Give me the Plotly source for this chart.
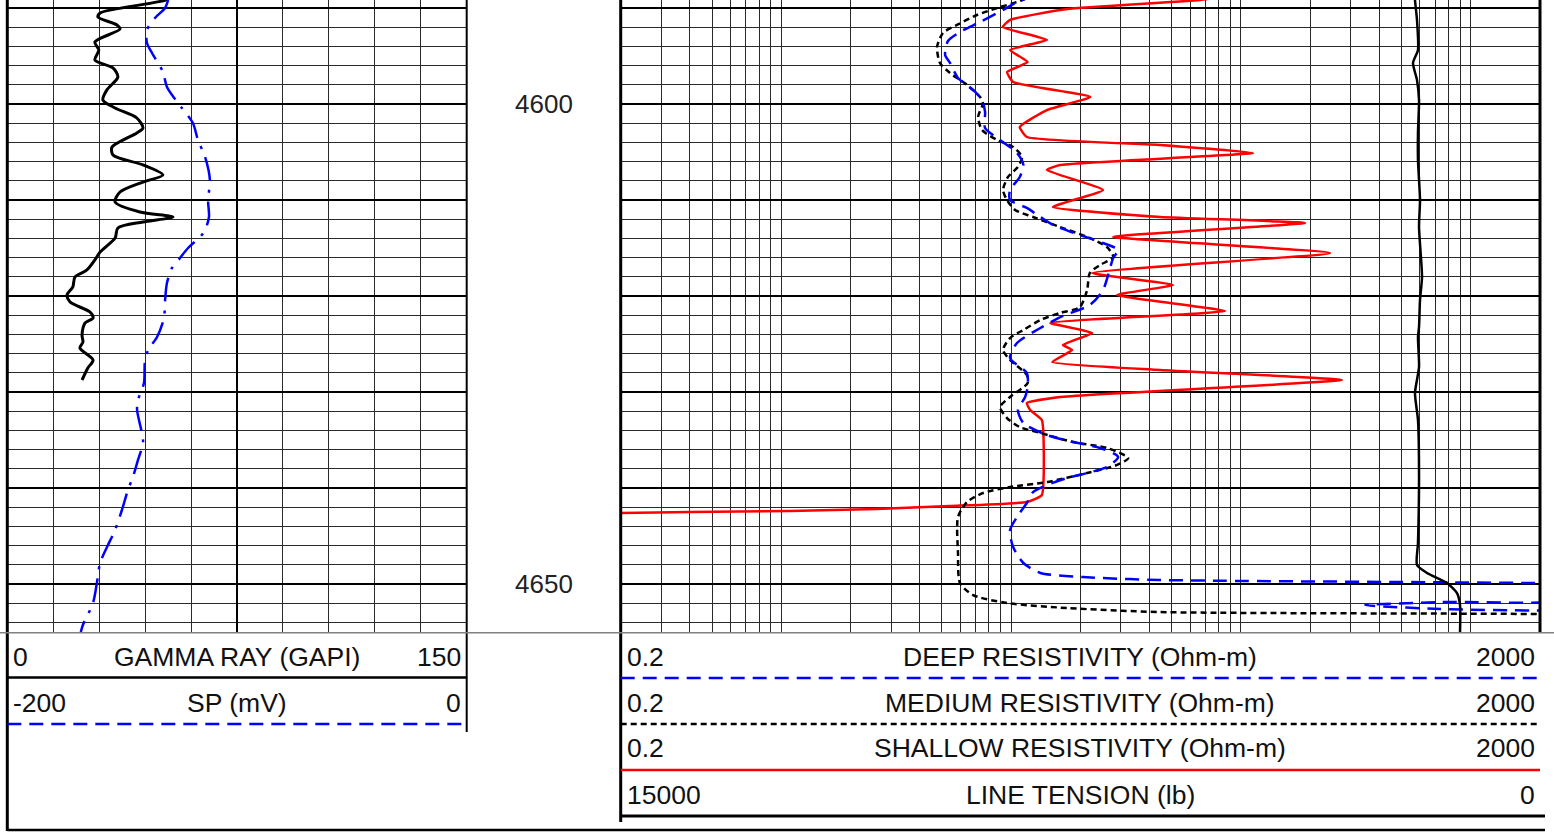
import plotly.graph_objects as go

# ---------------- data ----------------
gr_depth = [4588.85, 4589.17, 4590.52, 4590.94, 4591.77, 4592.19, 4593.54, 4594.38, 4595.42, 4596.25,
            4597.19, 4598.54, 4599.58, 4600.42, 4601.46, 4602.50, 4603.02, 4604.48, 4605.31, 4606.35,
            4607.40, 4608.13, 4609.17, 4610.21, 4611.25, 4611.77, 4612.29, 4612.92, 4613.96, 4615.42,
            4616.25, 4617.29, 4618.02, 4619.06, 4619.90, 4620.63, 4621.67, 4622.29, 4622.81, 4624.06,
            4624.79, 4625.42, 4626.67, 4627.50, 4628.75]
gr_value = [53.1, 51.8, 30.3, 29.6, 35.8, 36.8, 28.6, 29.9, 28.6, 34.5,
            36.1, 32.5, 31.2, 35.2, 42.3, 44.3, 42.3, 34.2, 34.5, 44.3,
            50.8, 44.3, 36.8, 35.2, 43.3, 54.1, 44.3, 36.1, 35.2, 30.3,
            28.6, 26.0, 22.1, 21.4, 19.5, 20.5, 27.0, 28.0, 25.4, 24.4,
            24.7, 23.7, 28.0, 26.3, 24.4]

sp_depth = [4589.17, 4590.00, 4591.04, 4592.29, 4593.65, 4594.69, 4596.67, 4598.23, 4600.42, 4601.98,
            4603.75, 4605.52, 4607.92, 4610.00, 4611.77, 4613.13, 4613.85, 4615.00, 4616.04, 4617.08,
            4618.65, 4620.42, 4622.29, 4624.27, 4625.63, 4626.88, 4629.06, 4630.83, 4631.88, 4634.27,
            4635.31, 4637.08, 4638.85, 4640.21, 4642.29, 4644.38, 4646.15, 4647.81, 4649.90, 4651.98,
            4654.27, 4655.00]
sp_value = [-130.0, -131.3, -135.7, -139.2, -139.2, -137.0, -132.2, -130.5, -124.0, -119.2,
            -117.0, -113.9, -111.8, -112.6, -112.2, -113.9, -116.1, -121.3, -124.8, -128.3,
            -130.5, -131.3, -131.8, -134.8, -138.7, -140.1, -140.5, -143.1, -143.5, -141.4,
            -140.9, -143.1, -145.3, -147.5, -150.1, -153.1, -156.6, -159.6, -161.0, -162.7,
            -167.1, -168.0]

deep_depth = [4588.65, 4589.38, 4590.21, 4591.46, 4592.50, 4593.44, 4594.90, 4595.73, 4597.29, 4598.54,
              4599.58, 4600.83, 4602.50, 4603.75, 4605.10, 4606.35, 4607.60, 4608.96, 4610.00, 4610.83,
              4611.77, 4612.60, 4613.65, 4614.48, 4615.21, 4616.04, 4619.38, 4620.94, 4622.08, 4623.33,
              4624.90, 4626.46, 4628.02, 4629.48, 4630.52, 4631.88, 4633.23, 4634.48, 4635.21, 4635.83,
              4636.77, 4637.81, 4638.44, 4638.96, 4639.69, 4640.42, 4641.56, 4642.60, 4644.38, 4646.15,
              4647.81, 4648.85, 4649.27, 4649.58, 4649.90, 4650.05, 4651.46, 4651.88, 4652.19, 4652.60,
              4652.81]
deep_value = [12.7, 10.6, 9.22, 7.32, 5.99, 5.31, 5.16, 5.42, 5.87, 6.83,
              7.47, 7.70, 7.70, 8.95, 10.6, 11.3, 10.9, 9.89, 9.89, 11.7,
              13.4, 15.2, 19.9, 25.1, 29.2, 27.8, 25.1, 22.0, 16.8, 13.4,
              10.6, 9.89, 11.7, 11.8, 11.5, 10.7, 11.3, 14.3, 18.6, 24.4,
              29.2, 26.1, 21.4, 17.5, 14.3, 12.45, 11.7, 10.9, 9.89, 10.2,
              11.3, 13.4, 20.5, 44.5, 1758, 3000, 3000, 735, 347, 735,
              3000]

med_depth = [4588.65, 4589.38, 4590.00, 4590.73, 4591.77, 4592.60, 4594.06, 4595.73, 4596.77, 4598.02,
             4599.27, 4599.90, 4601.35, 4602.71, 4603.75, 4604.48, 4605.52, 4606.56, 4607.60, 4608.96,
             4610.00, 4611.04, 4611.77, 4612.81, 4613.85, 4614.90, 4615.94, 4616.77, 4617.60, 4619.38,
             4621.15, 4621.77, 4622.50, 4623.54, 4624.38, 4625.63, 4626.67, 4628.23, 4629.06, 4630.52,
             4631.56, 4632.71, 4633.65, 4634.27, 4635.21, 4635.83, 4636.88, 4637.60, 4638.44, 4639.38,
             4639.90, 4640.52, 4641.46, 4643.02, 4646.77, 4649.90, 4651.15, 4651.98, 4652.50, 4652.92,
             4653.13, 4653.23]
med_value = [12.7, 10.6, 8.68, 7.10, 5.81, 5.05, 4.76, 4.90, 5.42, 6.43,
             7.32, 7.54, 7.18, 7.47, 8.68, 10.2, 11.15, 10.7, 9.69, 9.22,
             9.59, 10.4, 12.45, 16.3, 21.4, 26.1, 27.8, 24.4, 22.0, 21.4,
             19.9, 16.3, 13.4, 11.3, 9.89, 9.22, 9.89, 11.7, 11.8, 9.89,
             8.95, 9.59, 10.9, 13.4, 18.6, 26.1, 32.3, 28.9, 21.4, 14.3,
             9.89, 7.54, 6.43, 5.87, 5.87, 5.99, 6.83, 9.59, 17.5, 44.5,
             2000, 3000]

sh_depth = [4588.65, 4589.17, 4590.10, 4591.25, 4591.98, 4593.33, 4594.38, 4595.63, 4596.67, 4597.71,
            4599.27, 4600.63, 4602.40, 4603.44, 4604.27, 4605.10, 4606.35, 4606.88, 4608.96, 4610.73,
            4611.77, 4612.40, 4613.85, 4615.52, 4617.60, 4618.85, 4619.90, 4621.56, 4622.81, 4623.85,
            4625.10, 4625.63, 4626.88, 4627.71, 4628.75, 4630.52, 4631.15, 4631.88, 4632.92, 4640.73,
            4641.46, 4641.88, 4642.19, 4642.40, 4642.50, 4642.60, 4642.65]
sh_value = [89.6, 66.4, 17.5, 9.9, 9.2, 14.3, 9.9, 11.8, 9.6, 10.2,
            22.1, 14.3, 10.9, 11.7, 44.5, 112.9, 16.3, 14.3, 25.1, 15.2,
            44.5, 190, 27.8, 244, 22.5, 50.6, 28.9, 85.3, 14.8, 22.5,
            16.8, 18.4, 15.1, 44.5, 275, 16.3, 11.7, 12.1, 13.6, 13.6,
            11.7, 5.4, 2.6, 1.09, 0.40, 0.2, 0.18]

ten_depth = [4588.85, 4589.17, 4591.25, 4594.38, 4595.73, 4597.50, 4599.58, 4603.02, 4605.83, 4610.00,
             4612.81, 4618.02, 4620.42, 4623.23, 4624.27, 4627.40, 4630.10, 4632.92, 4638.85, 4645.73,
             4648.02, 4648.85, 4649.90, 4650.94, 4652.19, 4655.10]
ten_value = [2040, 2040, 2007, 1991, 2072, 2007, 1974, 1991, 1991, 1958,
             1974, 1925, 1958, 1974, 1991, 1974, 2040, 1991, 1974, 1991,
             2007, 1844, 1517, 1354, 1305, 1305]

depth_range = [4655.07, 4589.17]
depth_labels = [4600, 4650]
gr_range = [0, 150]
sp_range = [-200, 0]
res_range = [0.2, 2000]
ten_range = [15000, 0]

header_left = [("0", "GAMMA RAY (GAPI)", "150"), ("-200", "SP (mV)", "0")]
header_right = [("0.2", "DEEP RESISTIVITY (Ohm-m)", "2000"),
                ("0.2", "MEDIUM RESISTIVITY (Ohm-m)", "2000"),
                ("0.2", "SHALLOW RESISTIVITY (Ohm-m)", "2000"),
                ("15000", "LINE TENSION (lb)", "0")]

# ---------------- layout constants ----------------
W, H = 1554, 832
def px(x):
    return x / W
def py(y):
    return 1 - y / H

L0, L1 = px(7.3), px(466.7)
R0, R1 = px(620.7), px(1540)
YB = py(632.7)

BLUE = "#0000FF"
RED = "#FF0000"
DEEP_DASH = "14px,8px"
MED_DASH = "6px,4px"
SP_DASH = "24px,9px,3px,9px"
FONT = "Liberation Sans, Arial, sans-serif"

fig = go.Figure()

fig.add_trace(go.Scatter(x=gr_value, y=gr_depth, xaxis="x", yaxis="y", mode="lines",
                         line=dict(color="black", width=3, shape="spline", smoothing=0.8),
                         showlegend=False, hoverinfo="skip"))
fig.add_trace(go.Scatter(x=sp_value, y=sp_depth, xaxis="x2", yaxis="y", mode="lines",
                         line=dict(color=BLUE, width=2.5, dash=SP_DASH, shape="spline", smoothing=0.8),
                         showlegend=False, hoverinfo="skip"))
fig.add_trace(go.Scatter(x=sh_value, y=sh_depth, xaxis="x3", yaxis="y2", mode="lines",
                         line=dict(color=RED, width=2.5, shape="spline", smoothing=0.4),
                         showlegend=False, hoverinfo="skip"))
fig.add_trace(go.Scatter(x=med_value, y=med_depth, xaxis="x3", yaxis="y2", mode="lines",
                         line=dict(color="black", width=2.5, dash=MED_DASH, shape="spline", smoothing=0.7),
                         showlegend=False, hoverinfo="skip"))
fig.add_trace(go.Scatter(x=deep_value, y=deep_depth, xaxis="x3", yaxis="y2", mode="lines",
                         line=dict(color=BLUE, width=2.5, dash=DEEP_DASH, shape="spline", smoothing=0.7),
                         showlegend=False, hoverinfo="skip"))
fig.add_trace(go.Scatter(x=ten_value, y=ten_depth, xaxis="x4", yaxis="y2", mode="lines",
                         line=dict(color="black", width=2.5, shape="spline", smoothing=0.6),
                         showlegend=False, hoverinfo="skip"))

log_grid = []
for k in [-1, 0, 1, 2, 3]:
    for n in range(1, 10):
        v = n * 10 ** k
        if res_range[0] < v <= res_range[1]:
            log_grid.append(v)

GRIDC = "#2a2a2a"
yaxis_common = dict(range=depth_range, domain=[YB, 1], showticklabels=False, ticks="",
                    zeroline=False, showline=False,
                    tick0=4590, dtick=10, showgrid=True, gridcolor="black", gridwidth=2.5,
                    minor=dict(tick0=4590, dtick=2, showgrid=True, gridcolor=GRIDC, gridwidth=1))

fig.update_layout(
    width=W, height=H, margin=dict(l=0, r=0, t=0, b=0),
    paper_bgcolor="white", plot_bgcolor="white", showlegend=False,
    xaxis=dict(domain=[L0, L1], range=gr_range, anchor="y", showticklabels=False, ticks="",
               zeroline=False, showline=False, tick0=0, dtick=75, showgrid=True,
               gridcolor="black", gridwidth=2,
               minor=dict(dtick=15, showgrid=True, gridcolor=GRIDC, gridwidth=1)),
    xaxis2=dict(overlaying="x", range=sp_range, anchor="y", visible=False),
    xaxis3=dict(domain=[R0, R1], type="log", range=[-0.69897, 3.30103], anchor="y2",
                tickmode="array", tickvals=log_grid, showticklabels=False, ticks="",
                zeroline=False, showline=False, showgrid=True, gridcolor=GRIDC, gridwidth=1),
    xaxis4=dict(overlaying="x3", range=ten_range, anchor="y2", visible=False),
    yaxis=dict(anchor="x", **yaxis_common),
    yaxis2=dict(anchor="x3", matches="y", **yaxis_common),
)

shapes = []
def line(x0, y0, x1, y1, color="black", width=2, dash=None):
    d = dict(type="line", xref="paper", yref="paper", x0=x0, y0=y0, x1=x1, y1=y1,
             line=dict(color=color, width=width), layer="above")
    if dash:
        d["line"]["dash"] = dash
    shapes.append(d)

# track borders
line(L0, py(831), L0, 1, width=3)
line(L1, py(732), L1, 1, width=2)
line(R0, py(822), R0, 1, width=3)
line(R1, YB, R1, 1, width=3)
line(px(0), YB, px(1554), YB, color="#808080", width=1.5)
line(L0, py(830), px(1545), py(830), width=2.5)
# header separators
line(L0, py(677.5), L1, py(677.5), width=2.5)
line(L0, py(724), px(462), py(724), color=BLUE, width=2.5, dash=DEEP_DASH)
line(R0, py(678), R1, py(678), color=BLUE, width=2.5, dash=DEEP_DASH)
line(R0, py(724), R1, py(724), color="black", width=2.5, dash=MED_DASH)
line(R0, py(770), R1, py(770), color=RED, width=2.5)
line(R0, py(816), px(1545), py(816), color="black", width=3)
fig.update_layout(shapes=shapes)

ann = []
tf = dict(family=FONT, size=26.5, color="#111")
for i, (a, b, c) in enumerate(header_left):
    yy = py([657, 703][i])
    ann.append(dict(xref="paper", yref="paper", x=px(11), y=yy, text=a, showarrow=False, xanchor="left", yanchor="middle", font=tf))
    ann.append(dict(xref="paper", yref="paper", x=(L0 + L1) / 2, y=yy, text=b, showarrow=False, xanchor="center", yanchor="middle", font=tf))
    ann.append(dict(xref="paper", yref="paper", x=px(463), y=yy, text=c, showarrow=False, xanchor="right", yanchor="middle", font=tf))
for i, (a, b, c) in enumerate(header_right):
    yy = py([657, 703, 748, 795][i])
    ann.append(dict(xref="paper", yref="paper", x=px(625), y=yy, text=a, showarrow=False, xanchor="left", yanchor="middle", font=tf))
    ann.append(dict(xref="paper", yref="paper", x=(R0 + R1) / 2, y=yy, text=b, showarrow=False, xanchor="center", yanchor="middle", font=tf))
    ann.append(dict(xref="paper", yref="paper", x=px(1537), y=yy, text=c, showarrow=False, xanchor="right", yanchor="middle", font=tf))
for d in depth_labels:
    ann.append(dict(xref="paper", yref="y", x=px(544), y=d, text=str(d), showarrow=False,
                    xanchor="center", yanchor="middle", font=dict(family=FONT, size=26, color="#222")))
fig.update_layout(annotations=ann)

fig.write_html("out.html", config={"displayModeBar": False, "staticPlot": True},
               post_script="document.body.style.margin='0';document.documentElement.style.overflow='hidden';")
